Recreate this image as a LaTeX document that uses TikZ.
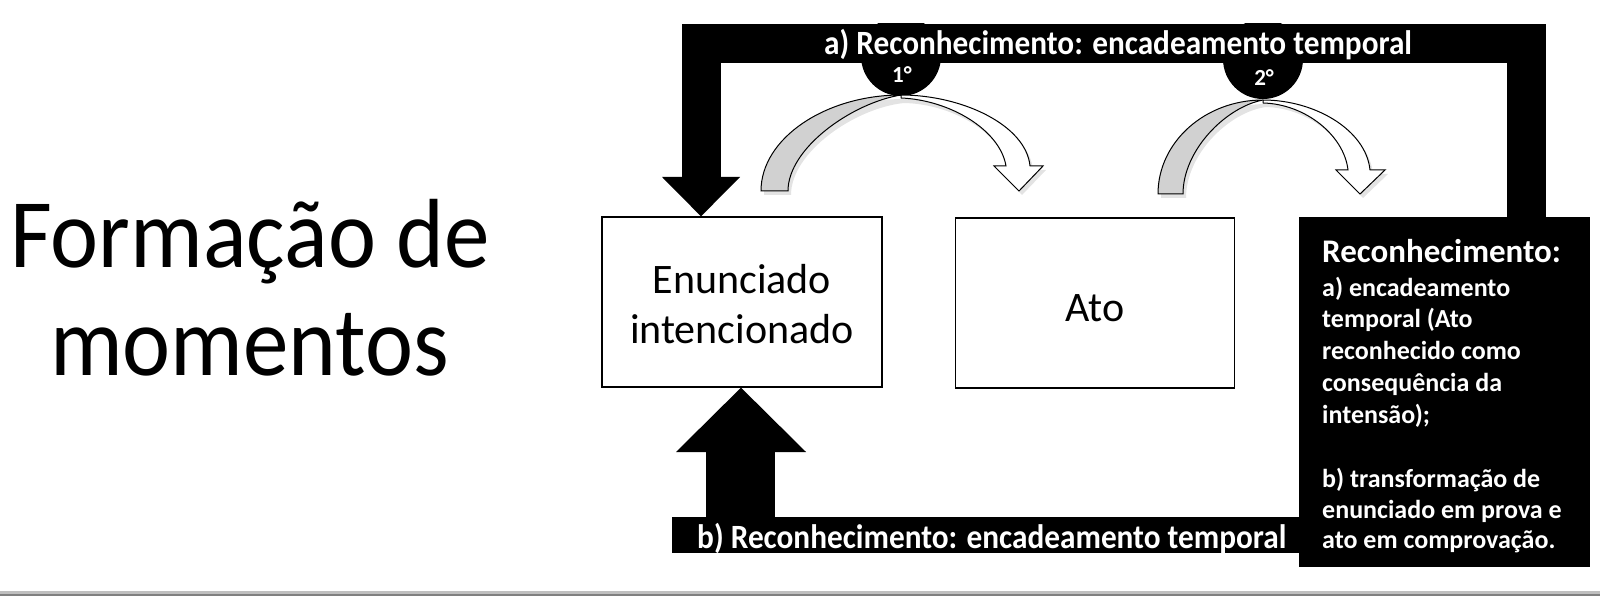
\documentclass[tikz,border=0pt]{standalone}
\usepackage{fontspec}
\setmainfont{Carlito}
\begin{document}
\begin{tikzpicture}[x=1pt,y=-1pt,
  plainbox/.style={draw=black, line width=1.3pt, fill=white, inner sep=0pt, align=center,
    minimum width=280pt, minimum height=170pt, font=\fontsize{42}{50}\selectfont},
  bartext/.style={text=white, inner sep=0pt, anchor=base west, font=\bfseries\fontsize{34}{40}\selectfont},
  rectext/.style={text=white, inner sep=0pt, anchor=base west, font=\bfseries\fontsize{26}{31}\selectfont},
  titletext/.style={inner sep=0pt, anchor=base west, font=\fontsize{91}{108}\selectfont},
  badge/.style={circle, fill=black, minimum size=80pt, inner sep=0pt},
  badgetext/.style={text=white, inner sep=0pt, font=\bfseries\fontsize{23}{27}\selectfont},
  bigbar/.style={line width=39pt, line join=miter, line cap=butt},
  backband/.style={draw=black, line width=1pt, fill=black!18},
  frontband/.style={draw=black, line width=1pt, fill=white},
  shade/.style={fill=black!22, opacity=0.5}
]
\useasboundingbox (0,0) rectangle (1600,596);

% title
\node[titletext] (t1) at (10,267) {\scalebox{1}[1.08]{Formação de}};
\node[titletext] (t2) at (50,375) {\scalebox{1}[1.08]{momentos}};

% boxes
\node[plainbox] (enun) at (742,302) {\rule{0pt}{33pt}Enunciado\\intencionado};
\node[plainbox, minimum width=279pt] (ato) at (1095,303) {\raisebox{0pt}[36pt][0pt]{Ato}};
\node[fill=black, minimum width=291pt, minimum height=350pt, inner sep=0pt, anchor=north west] (rec) at (1299,217) {};

% badges (upper part hidden behind the top bar)
\begin{scope}
\clip (0,24) rectangle (1600,200);
\node[badge] (c1) at (901,56) {};
\node[badge] (c2) at (1263,59) {};
\end{scope}

% top connector: from rec up, across, down to enun
\coordinate (topR) at (rec.north -| 1526,0);
\coordinate (topL) at (701,177);
\draw[bigbar] (topR) |- (701,43.5) -- (topL);
\fill (662,177) -- (740,177) -- (enun.north -| 701,0) -- cycle;

% bottom connector: from rec left, to shaft, up to enun
\coordinate (botR) at (rec.west |- 0,535);
\fill (672,517) rectangle (botR |- 0,553);
\fill (706,452) rectangle (775,535);
\fill (676,452) -- (806,452) -- (enun.south -| 741,0) -- cycle;

% bar texts
\node[bartext] (ta) at (824,55) {\scalebox{0.92}[1]{a) Reconhecimento: encadeamento temporal}};
\node[bartext] (tb) at (697,548) {\scalebox{0.92}[1]{b) Reconhecimento: encadeamento temporal}};

% badge labels
\node[badgetext] (n1) at (902,75) {1°};
\node[badgetext] (n2) at (1264,78) {2°};

% curved arrow 1
\begin{scope}[shift={(3,4)}]
\fill[shade] (761,191) .. controls (761,138) and (826,95) .. (901,95)
  .. controls (962,95) and (1026,125) .. (1030,166) -- (1043,166) -- (1019,191) -- (994,166) -- (1006,166)
  .. controls (1000,130) and (950,100) .. (901,99) .. controls (852,104) and (788,148) .. (788,191) -- cycle;
\end{scope}
\draw[backband] (761,191) .. controls (761,138) and (826,95) .. (901,95)
  .. controls (852,103) and (788,148) .. (788,191) -- cycle;
\draw[frontband] (901,95) .. controls (962,95) and (1026,125) .. (1030,166) -- (1043,166) -- (1019,191)
  -- (994,166) -- (1006,166) .. controls (1000,130) and (950,100) .. (901,98) -- cycle;

% curved arrow 2
\begin{scope}[shift={(3,4)}]
\fill[shade] (1158,194) .. controls (1158,142) and (1205,100) .. (1263,100)
  .. controls (1315,100) and (1366,130) .. (1370,170) -- (1385,170) -- (1360,194) -- (1336,170) -- (1348,170)
  .. controls (1344,135) and (1305,104) .. (1263,103) .. controls (1226,108) and (1183,150) .. (1183,194) -- cycle;
\end{scope}
\draw[backband] (1158,194) .. controls (1158,142) and (1205,100) .. (1263,100)
  .. controls (1226,107) and (1183,150) .. (1183,194) -- cycle;
\draw[frontband] (1263,100) .. controls (1315,100) and (1366,130) .. (1370,170) -- (1385,170) -- (1360,194)
  -- (1336,170) -- (1348,170) .. controls (1344,135) and (1305,104) .. (1263,103) -- cycle;

% recognition text
\node[rectext, font=\bfseries\fontsize{33}{40}\selectfont] (r0) at (1322,262) {Reconhecimento:};
\node[rectext] (r1) at (1322,296) {a) encadeamento};
\node[rectext] (r2) at (1322,327) {temporal (Ato};
\node[rectext] (r3) at (1322,359) {reconhecido como};
\node[rectext] (r4) at (1322,391) {consequência da};
\node[rectext] (r5) at (1322,423) {intensão);};
\node[rectext] (r6) at (1322,487) {b) transformação de};
\node[rectext] (r7) at (1322,518) {enunciado em prova e};
\node[rectext] (r8) at (1322,548) {ato em comprovação.};

% bottom frame line
\fill[black!25] (0,591) rectangle (1600,593.5);
\fill[black!50] (0,593.5) rectangle (1600,596);
\end{tikzpicture}
\end{document}
